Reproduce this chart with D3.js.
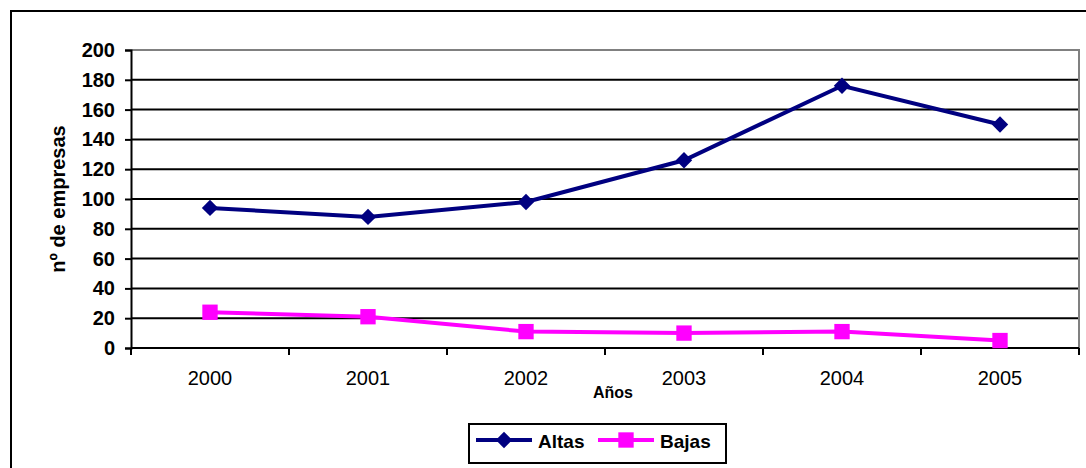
<!DOCTYPE html>
<html>
<head>
<meta charset="utf-8">
<script src="https://cdn.jsdelivr.net/npm/d3@7"></script>
<style>
  body { margin:0; background:#fff; }
  text { font-family: "Liberation Sans", Arial, sans-serif; }
</style>
</head>
<body>
<script>
var years = ["2000","2001","2002","2003","2004","2005"];
var altas = [94, 88, 98, 126, 176, 150];
var bajas = [24, 21, 11, 10, 11, 5];
var yTicks = [0,20,40,60,80,100,120,140,160,180,200];

var width = 1086, height = 468;
var margins = { top:50, bottom:120, left:131, right:7 };

var svg = d3.select("body").append("svg")
  .attr("width", width)
  .attr("height", height);

// outer chart frame
svg.append("rect")
  .attr("x", 11).attr("y", 11)
  .attr("width", width + 10).attr("height", height + 10)
  .attr("fill", "none").attr("stroke", "#000").attr("stroke-width", 2);

var plotW = width - margins.left - margins.right;
var plotH = height - margins.top - margins.bottom;

var xScale = d3.scaleBand().domain(years).range([0, plotW]);
var yScale = d3.scaleLinear().domain([0, 200]).range([plotH, 0]);

var g = svg.append("g").attr("transform", "translate(" + margins.left + "," + margins.top + ")");

// gridlines
g.selectAll(".grid").data(yTicks.filter(function(d){ return d > 0 && d < 200; }))
  .enter().append("line")
  .attr("x1", 0).attr("x2", plotW)
  .attr("y1", function(d){ return yScale(d); })
  .attr("y2", function(d){ return yScale(d); })
  .attr("stroke", "#000").attr("stroke-width", 2);

// plot border top/right (grey)
g.append("path")
  .attr("d", "M0," + yScale(200) + "H" + plotW + "V" + plotH)
  .attr("fill", "none").attr("stroke", "#808080").attr("stroke-width", 2);

// y axis
var yAxis = g.append("g")
  .call(d3.axisLeft(yScale).tickValues(yTicks).tickSize(6).tickPadding(10));
yAxis.select(".domain").attr("stroke", "#000").attr("stroke-width", 2);
yAxis.selectAll(".tick line").attr("stroke", "#000").attr("stroke-width", 2);
yAxis.selectAll("text").attr("font-size", 20).attr("font-weight", "bold").attr("fill", "#000")
  .attr("font-family", "Liberation Sans, Arial, sans-serif");

// x axis: ticks at category boundaries
var xAxis = g.append("g").attr("transform", "translate(0," + plotH + ")");
xAxis.append("line").attr("x1", 0).attr("x2", plotW).attr("stroke", "#000").attr("stroke-width", 2);
var bounds = years.map(function(d){ return xScale(d); }).concat([plotW]);
xAxis.selectAll(".xt").data(bounds).enter().append("line")
  .attr("x1", function(d){ return d; }).attr("x2", function(d){ return d; })
  .attr("y1", 0).attr("y2", 7)
  .attr("stroke", "#000").attr("stroke-width", 2);
xAxis.selectAll(".xl").data(years).enter().append("text")
  .attr("x", function(d){ return xScale(d) + xScale.bandwidth()/2; })
  .attr("y", 37)
  .attr("text-anchor", "middle")
  .attr("font-size", 20)
  .text(function(d){ return d; });

// axis titles
svg.append("text")
  .attr("x", 613).attr("y", 398)
  .attr("text-anchor", "middle").attr("font-size", 16).attr("font-weight", "bold")
  .text("Años");
svg.append("text")
  .attr("transform", "translate(65," + (margins.top + plotH/2) + ") rotate(-90)")
  .attr("text-anchor", "middle").attr("font-size", 20).attr("font-weight", "bold")
  .text("nº de empresas");

var cx = function(d, i){ return xScale(years[i]) + xScale.bandwidth()/2; };
var line = d3.line().x(cx).y(function(d){ return yScale(d); });

var navy = "#000080", magenta = "#FF00FF";

g.append("path").datum(altas).attr("d", line)
  .attr("fill", "none").attr("stroke", navy).attr("stroke-width", 4);
g.append("path").datum(bajas).attr("d", line)
  .attr("fill", "none").attr("stroke", magenta).attr("stroke-width", 4);

var diamond = d3.symbol().type(d3.symbolDiamond2).size(170);
var square = d3.symbol().type(d3.symbolSquare2).size(300);

g.selectAll(".alt").data(altas).enter().append("path")
  .attr("d", diamond)
  .attr("transform", function(d, i){ return "translate(" + cx(d, i) + "," + yScale(d) + ")"; })
  .attr("fill", navy);
g.selectAll(".baj").data(bajas).enter().append("path")
  .attr("d", square)
  .attr("transform", function(d, i){ return "translate(" + cx(d, i) + "," + yScale(d) + ")"; })
  .attr("fill", magenta);

// legend
var leg = svg.append("g").attr("transform", "translate(469,424)");
leg.append("rect").attr("width", 257).attr("height", 39)
  .attr("fill", "#fff").attr("stroke", "#000").attr("stroke-width", 2);
var items = [{name:"Altas", color:navy, sym:diamond}, {name:"Bajas", color:magenta, sym:square}];
var offs = [7, 129];
items.forEach(function(it, i){
  var x0 = offs[i];
  leg.append("line").attr("x1", x0).attr("x2", x0 + 56).attr("y1", 16).attr("y2", 16)
    .attr("stroke", it.color).attr("stroke-width", 4);
  leg.append("path").attr("d", it.sym).attr("transform", "translate(" + (x0 + 28) + ",16)")
    .attr("fill", it.color);
  leg.append("text").attr("x", x0 + 62).attr("y", 24)
    .attr("font-size", 19).attr("font-weight", "bold").text(it.name);
});
</script>
</body>
</html>
